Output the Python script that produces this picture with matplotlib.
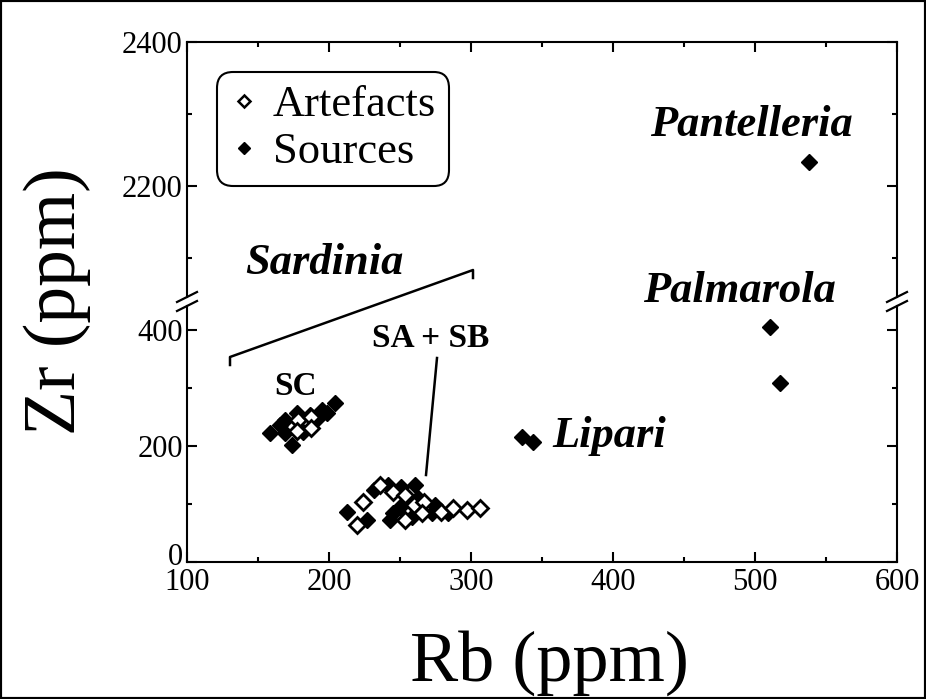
import matplotlib
matplotlib.use('Agg')
import matplotlib.pyplot as plt
from matplotlib.lines import Line2D
from matplotlib.patches import Rectangle
from matplotlib.ticker import MultipleLocator
from matplotlib.transforms import ScaledTranslation

plt.rcParams['font.family'] = ['Liberation Serif', 'DejaVu Serif']

# ---------------- data (Rb ppm, Zr ppm) ----------------
sc_art_rb = [178, 187, 177.5, 187]
sc_art_zr = [245, 250, 226, 231]
sc_src_rb = [158.5, 204, 198.6, 174, 165.5, 169, 177.5, 186.6, 192, 195, 181.7, 169]
sc_src_zr = [222, 274, 257, 202, 236, 245, 257, 253, 248, 262, 224, 222]

sa_art_rb = [224, 219.7, 236, 245, 253.5, 260, 253.5, 267, 265.5, 279, 287, 297, 306]
sa_art_zr = [103, 64, 133, 121, 116, 98, 72, 103, 84, 86, 93, 90, 93]
sa_src_rb = [213, 226.8, 232, 241.5, 251, 260.6, 245, 243, 258.5, 262.7, 272.5, 274.6, 284, 250]
sa_src_zr = [86, 72, 124, 133, 129, 133, 84, 72, 78, 110, 84, 98, 84, 95]

lipari_rb = [335.9, 343.7]
lipari_zr = [215.5, 207]
palmarola_rb = [510.6, 517.6]
palmarola_zr = [405, 308.6]
pantelleria_rb = [538]
pantelleria_zr = [2233]

x_ticks = [100, 200, 300, 400, 500, 600]
y_ticks_low = [0, 200, 400]
y_ticks_up = [2200, 2400]

# ---------------- layout ----------------
W, H = 926, 699
fig = plt.figure(figsize=(W / 100, H / 100), dpi=100)


def fx(px):
    return px / W


def fy(py):
    return 1 - py / H


L, R = 187, 897
TOP, BRK_U, BRK_L, BOT = 42, 297, 306, 562
UP_SCALE = 0.72   # px per ppm (upper)
LO_SCALE = 0.58   # px per ppm (lower)

ax_up = fig.add_axes([fx(L), fy(BRK_U), fx(R) - fx(L), fy(TOP) - fy(BRK_U)])
ax_lo = fig.add_axes([fx(L), fy(BOT), fx(R) - fx(L), fy(BRK_L) - fy(BOT)])

ax_up.set_ylim(2400 - (BRK_U - TOP) / UP_SCALE, 2400)
ax_lo.set_ylim(0, (BOT - BRK_L) / LO_SCALE)
for ax in (ax_up, ax_lo):
    ax.set_xlim(100, 600)
    ax.set_facecolor('white')
    for s in ax.spines.values():
        s.set_linewidth(1.5)
    ax.xaxis.set_major_locator(MultipleLocator(100))
    ax.xaxis.set_minor_locator(MultipleLocator(50))
    ax.yaxis.set_major_locator(MultipleLocator(200))
    ax.yaxis.set_minor_locator(MultipleLocator(100))
    ax.tick_params(which='both', direction='in', width=1.5, labelsize=22,
                   left=True, right=True)
    ax.tick_params(which='major', length=7)
    ax.tick_params(which='minor', length=3.5)

ax_up.spines['bottom'].set_visible(False)
ax_up.tick_params(axis='x', which='both', bottom=False, labelbottom=False, top=True)
ax_up.set_yticks(y_ticks_up)
ax_up.set_yticklabels([str(v) for v in y_ticks_up])
ax_lo.spines['top'].set_visible(False)
ax_lo.tick_params(axis='x', which='both', top=False, bottom=True, pad=4)
ax_lo.set_xticks(x_ticks)
ax_lo.set_xticklabels([str(v) for v in x_ticks])
ax_lo.set_yticks(y_ticks_low)
ax_lo.set_yticklabels([str(v) for v in y_ticks_low])
ax_lo.tick_params(axis='y', pad=3)
ax_up.tick_params(axis='y', pad=3)

# nudge the "0" label up a little so it does not collide with "100"
zero_lbl = ax_lo.yaxis.get_major_ticks()[0].label1
zero_lbl.set_transform(zero_lbl.get_transform() +
                       ScaledTranslation(0, 8 / 100, fig.dpi_scale_trans))

MS = 8
art_kw = dict(ls='none', marker='D', ms=MS, mfc='white', mec='black', mew=2.0, clip_on=False, zorder=4)
src_kw = dict(ls='none', marker='D', ms=MS, mfc='black', mec='black', mew=1.0, clip_on=False, zorder=3)

ax_lo.plot(sc_src_rb, sc_src_zr, **src_kw)
ax_lo.plot(sa_src_rb, sa_src_zr, **src_kw)
ax_lo.plot(lipari_rb, lipari_zr, **src_kw)
ax_lo.plot(palmarola_rb, palmarola_zr, **src_kw)
ax_up.plot(pantelleria_rb, pantelleria_zr, **src_kw)
ax_lo.plot(sc_art_rb, sc_art_zr, **art_kw)
ax_lo.plot(sa_art_rb, sa_art_zr, **art_kw)

# break marks
for xb in (L, R):
    for yb in (BRK_U, BRK_L):
        fig.add_artist(Line2D([fx(xb - 10), fx(xb + 10)], [fy(yb + 5), fy(yb - 5)],
                              transform=fig.transFigure, color='black', lw=1.6))

# Sardinia bracket and SA+SB pointer
fig.add_artist(Line2D([fx(230), fx(230), fx(473), fx(473)],
                      [fy(365), fy(357), fy(270), fy(278)],
                      transform=fig.transFigure, color='black', lw=1.8))
fig.add_artist(Line2D([fx(437), fx(426)], [fy(358), fy(475)],
                      transform=fig.transFigure, color='black', lw=1.8))

# labels
bi = dict(fontsize=32, fontweight='bold', fontstyle='italic', ha='left', va='baseline')
fig.text(fx(650), fy(136), 'Pantelleria', **bi)
fig.text(fx(643), fy(302), 'Palmarola', **bi)
fig.text(fx(245), fy(274), 'Sardinia', **bi)
fig.text(fx(552), fy(447), 'Lipari', **bi)
bd = dict(fontsize=24, fontweight='bold', ha='left', va='baseline')
fig.text(fx(274), fy(395), 'SC', **bd)
fig.text(fx(372), fy(347), 'SA + SB', **bd)

fig.text(fx(549), fy(681), 'Rb (ppm)', ha='center', va='baseline', fontsize=52)
fig.text(fx(57), fy(301), 'Zr (ppm)', ha='center', va='center', rotation=90, fontsize=53)

# legend
h_art = Line2D([], [], ls='none', marker='D', ms=6.5, mfc='white', mec='black', mew=1.8)
h_src = Line2D([], [], ls='none', marker='D', ms=6.5, mfc='black', mec='black')
leg = ax_up.legend([h_art, h_src], ['Artefacts', 'Sources'], loc='upper left',
                   bbox_to_anchor=(fx(217), fy(72)), bbox_transform=fig.transFigure,
                   borderaxespad=0, fontsize=32, frameon=True, fancybox=True,
                   edgecolor='black', framealpha=1, handlelength=0.6,
                   handletextpad=0.35, labelspacing=0.15, borderpad=0.3)
leg.get_frame().set_linewidth(1.5)
leg.get_frame().set_boxstyle('round', pad=0, rounding_size=0.35)

# figure border
fig.add_artist(Rectangle((0, 0), 1, 1, transform=fig.transFigure, fill=False,
                         lw=3, ec='black'))

fig.savefig('out.png', dpi=100, facecolor='white')
